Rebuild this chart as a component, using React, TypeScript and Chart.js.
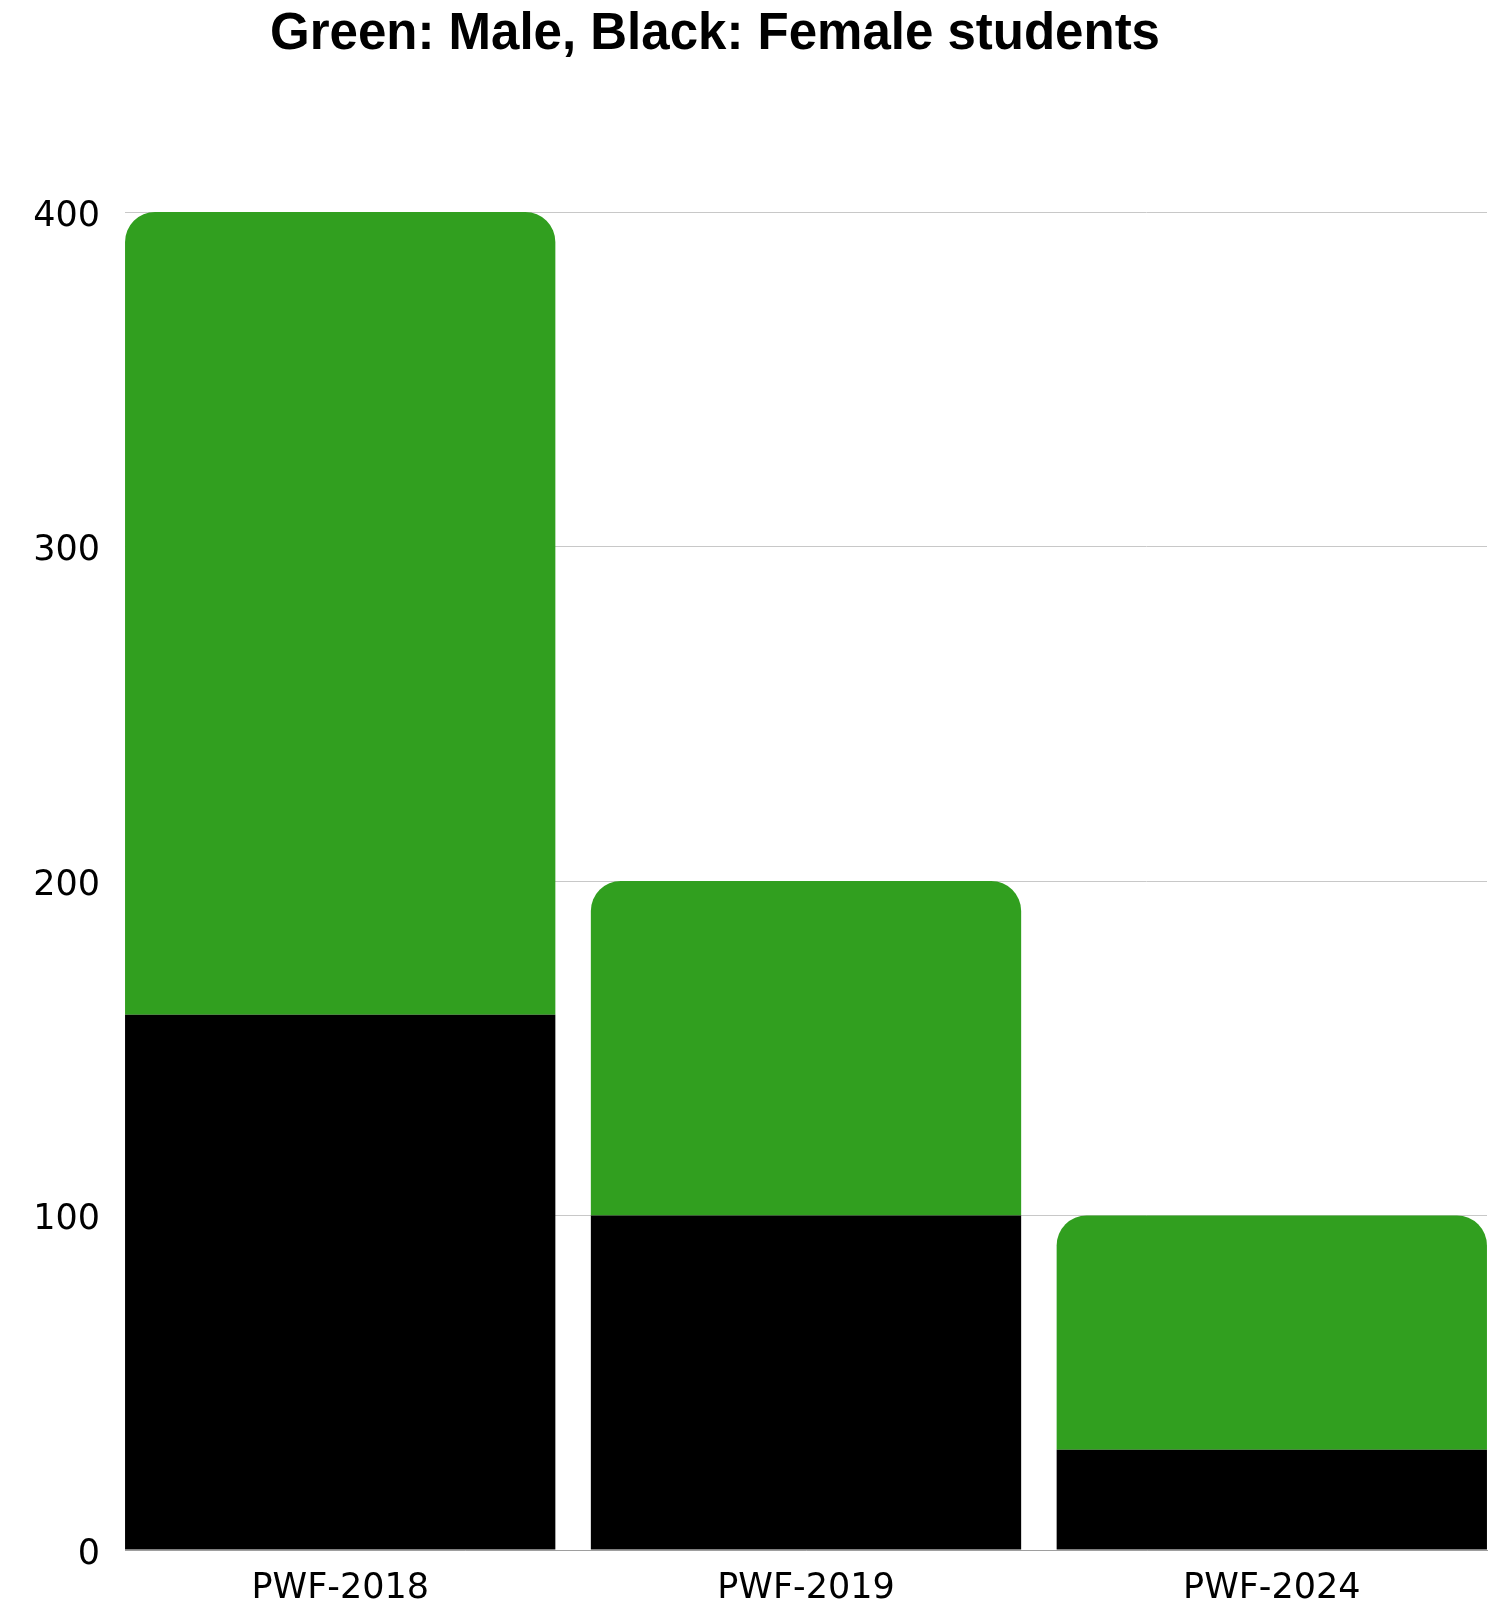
import React, { useEffect, useRef } from "react";
import { Chart, registerables } from "chart.js";

Chart.register(...registerables);

const titleText = "Green: Male, Black: Female students";
const categories = ["PWF-2018", "PWF-2019", "PWF-2024"];
const femaleStudents = [160, 100, 30];
const maleStudents = [240, 100, 70];
const yTickValues = [0, 100, 200, 300, 400];

const GREEN = "#319f1f";
const BLACK = "#000000";
const HALF_BAR = 0.462;

export default function App() {
  const canvasRef = useRef<HTMLCanvasElement>(null);

  useEffect(() => {
    if (!canvasRef.current) return;
    const chart = new Chart(canvasRef.current, {
      type: "bar",
      data: {
        datasets: [
          {
            label: "Female",
            data: femaleStudents.map((v, i) => ({ x: i, y: v })),
            backgroundColor: BLACK,
            borderWidth: 0,
            borderRadius: 0,
            stack: "students",
            barPercentage: 1,
            categoryPercentage: 0.9238,
          },
          {
            label: "Male",
            data: maleStudents.map((v, i) => ({ x: i, y: v })),
            backgroundColor: GREEN,
            borderWidth: 0,
            borderRadius: { topLeft: 30, topRight: 30, bottomLeft: 0, bottomRight: 0 },
            borderSkipped: "start",
            stack: "students",
            barPercentage: 1,
            categoryPercentage: 0.9238,
          },
        ],
      },
      options: {
        animation: false,
        responsive: false,
        maintainAspectRatio: false,
        layout: { padding: { top: 212, right: 9, left: 0, bottom: 0 } },
        plugins: {
          legend: { display: false },
          tooltip: { enabled: false },
          title: { display: false },
        },
        scales: {
          x: {
            type: "linear",
            stacked: true,
            offset: false,
            min: -HALF_BAR,
            max: categories.length - 1 + HALF_BAR,
            grid: { display: false, offset: false },
            border: { display: true, color: "#9e9e9e", width: 1 },
            ticks: {
              autoSkip: false,
              maxRotation: 0,
              padding: 10,
              color: "#000000",
              font: { family: "'DejaVu Sans'", size: 35 },
              callback: (v: any) => categories[Number(v)] ?? "",
            },
            afterBuildTicks: (axis: any) => {
              axis.ticks = categories.map((_, i) => ({ value: i }));
            },
            afterFit: (scale: any) => {
              scale.height = 54;
            },
          },
          y: {
            stacked: true,
            min: 0,
            max: 400,
            grid: { color: "#c8c8c8", drawTicks: false, lineWidth: 1 },
            border: { display: false },
            ticks: {
              stepSize: 100,
              padding: 25,
              color: "#000000",
              font: { family: "'DejaVu Sans'", size: 35, lineHeight: "9px" },
              callback: (v: any) => ["", String(v)],
            },
            afterBuildTicks: (axis: any) => {
              axis.ticks = yTickValues.map((value) => ({ value }));
            },
            afterFit: (scale: any) => {
              scale.width = 125;
            },
          },
        },
      },
    });
    return () => chart.destroy();
  }, []);

  return (
    <div style={{ position: "absolute", left: 0, top: 0, width: 1496, height: 1604, background: "#ffffff", overflow: "hidden" }}>
      <canvas ref={canvasRef} width={1496} height={1604} style={{ display: "block", width: 1496, height: 1604 }} />
      <div
        style={{
          position: "absolute",
          left: 0,
          top: 7,
          width: 1430,
          textAlign: "center",
          fontFamily: "'Liberation Sans', Arial, sans-serif",
          fontWeight: "bold",
          fontSize: 51,
          lineHeight: "50px",
          color: "#000000",
          whiteSpace: "nowrap",
        }}
      >
        {titleText}
      </div>
    </div>
  );
}
